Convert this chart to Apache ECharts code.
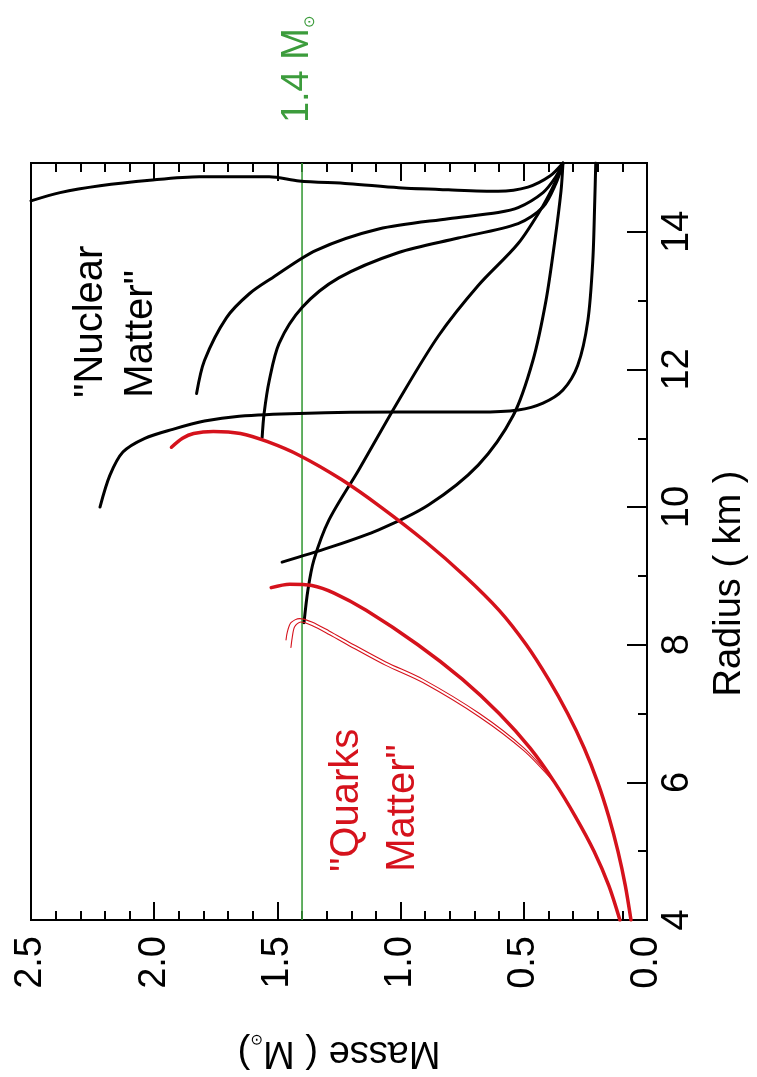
<!DOCTYPE html>
<html>
<head>
<meta charset="utf-8">
<script src="https://cdn.jsdelivr.net/npm/echarts/dist/echarts.min.js"></script>
<style>
  html, body { margin: 0; padding: 0; background: #fff; }
  #chart { width: 757px; height: 1077px; }
</style>
</head>
<body>
<div id="chart"></div>
<script>
// Neutron-star / quark-star mass–radius relations.
// The figure is laid out turned a quarter turn: mass runs right-to-left along the
// bottom, radius runs bottom-to-top along the right side.

// Axis tick labels
const radiusTickLabels = ['4', '6', '8', '10', '12', '14'];
const massTickLabels = ['0.0', '0.5', '1.0', '1.5', '2.0', '2.5'];
const referenceMass = 1.4;

// "Nuclear matter" curves (radius in km, mass in solar masses)
const nucA_R = [14.45, 14.57, 14.67, 14.75, 14.80, 14.80, 14.74, 14.70, 14.64, 14.61, 14.59, 14.65, 14.81, 15.0];
const nucA_M = [2.500, 2.382, 2.220, 2.018, 1.816, 1.533, 1.412, 1.210, 1.008, 0.806, 0.604, 0.483, 0.394, 0.341];

const nucB_R = [11.65, 12.13, 12.75, 13.10, 13.33, 13.73, 14.04, 14.19, 14.28, 14.35, 14.57, 14.80, 15.0];
const nucB_M = [1.828, 1.796, 1.707, 1.614, 1.521, 1.343, 1.089, 0.806, 0.604, 0.523, 0.422, 0.370, 0.341];

const nucC_R = [11.01, 11.36, 11.84, 12.38, 12.90, 13.33, 13.70, 13.91, 14.12, 14.36, 14.70, 15.0];
const nucC_M = [1.562, 1.554, 1.533, 1.493, 1.400, 1.251, 1.008, 0.766, 0.523, 0.422, 0.370, 0.341];

const nucD_R = [10.00, 10.46, 10.80, 11.00, 11.13, 11.25, 11.32, 11.36, 11.38, 11.38, 11.41, 11.51, 11.70, 12.06, 12.71, 13.58, 14.45, 15.0];
const nucD_M = [2.220, 2.180, 2.127, 2.038, 1.925, 1.796, 1.655, 1.412, 1.008, 0.685, 0.523, 0.422, 0.341, 0.281, 0.240, 0.220, 0.212, 0.208];

const nucE_R = [9.20, 9.41, 9.67, 10.03, 10.61, 11.33, 12.13, 13.00, 13.87, 14.59, 15.0];
const nucE_M = [1.481, 1.291, 1.089, 0.887, 0.685, 0.543, 0.463, 0.410, 0.374, 0.349, 0.341];

const nucF_R = [8.32, 8.80, 9.23, 9.81, 10.54, 11.55, 12.49, 13.22, 13.83, 14.38, 14.74, 15.0];
const nucF_M = [1.392, 1.376, 1.352, 1.291, 1.170, 1.008, 0.846, 0.685, 0.523, 0.422, 0.370, 0.341];

// "Quarks matter" curves
const qrkA_R = [4.00, 4.50, 5.00, 5.50, 6.00, 6.50, 7.00, 7.50, 8.00, 8.50, 9.00, 9.50, 10.00, 10.40, 10.75, 10.95, 11.07, 11.10, 11.07, 11.00, 10.87];
const qrkA_M = [0.065, 0.088, 0.118, 0.155, 0.200, 0.255, 0.322, 0.400, 0.490, 0.600, 0.740, 0.900, 1.080, 1.240, 1.410, 1.540, 1.650, 1.760, 1.840, 1.885, 1.930];

const qrkB_R = [4.00, 4.50, 5.00, 5.50, 6.00, 6.50, 7.00, 7.50, 8.00, 8.50, 8.75, 8.86, 8.88, 8.83];
const qrkB_M = [0.110, 0.155, 0.215, 0.290, 0.375, 0.475, 0.600, 0.750, 0.930, 1.140, 1.270, 1.360, 1.450, 1.525];

const qrkC_R = [6.04, 6.50, 7.00, 7.50, 7.75, 8.00, 8.20, 8.33, 8.38, 8.32, 8.18, 8.07];
const qrkC_M = [0.382, 0.500, 0.680, 0.910, 1.060, 1.190, 1.290, 1.360, 1.410, 1.445, 1.460, 1.465];

const qrkD_R = [6.02, 6.46, 6.95, 7.45, 7.70, 7.95, 8.15, 8.28, 8.33, 8.26, 8.10, 7.96];
const qrkD_M = [0.382, 0.500, 0.680, 0.910, 1.060, 1.190, 1.290, 1.360, 1.405, 1.430, 1.440, 1.445];

const FONT = "'Liberation Sans', Arial, Helvetica, sans-serif";
const BLACK = '#000000';
const RED = '#d5121c';
const GREEN = '#3c9c3c';
const FS = 38;
const NOTE_FS = 40;

function pairs(radius, mass) {
  return radius.map((r, i) => [mass[i], r]);
}

function curve(radius, mass, color, width, z) {
  return {
    type: 'line',
    xAxisIndex: 0,
    yAxisIndex: 0,
    data: pairs(radius, mass),
    symbol: 'none',
    smooth: 0.3,
    clip: true,
    z: z || 2,
    lineStyle: { color: color, width: width, cap: 'round', join: 'round' },
    emphasis: { disabled: true },
    silent: true
  };
}

const tickStyle = { color: BLACK, width: 2 };
// small solar symbol set slightly below the baseline
const sunSub = { fontSize: 15, fontFamily: FONT, verticalAlign: 'bottom', lineHeight: 10 };

function massAxis(position, interval, len, main) {
  const ax = {
    type: 'value',
    gridIndex: 0,
    position: position,
    inverse: true,
    min: 0,
    max: 2.5,
    interval: interval,
    axisLine: { show: false },
    splitLine: { show: false },
    axisTick: { show: true, inside: true, length: len, lineStyle: tickStyle },
    axisLabel: { show: false }
  };
  if (main) {
    ax.axisLabel = {
      show: true,
      rotate: 90,
      margin: 16,
      fontSize: FS,
      fontFamily: FONT,
      color: BLACK,
      formatter: v => massTickLabels[Math.round(v / 0.5)]
    };
    ax.name = 'Masse ( M{s|⊙})';
    ax.nameLocation = 'middle';
    ax.nameRotate = 180;
    ax.nameGap = 112;
    ax.nameTextStyle = {
      fontSize: FS, fontFamily: FONT, color: BLACK, lineHeight: 40,
      rich: { s: Object.assign({ color: BLACK }, sunSub) }
    };
  }
  return ax;
}

function radiusAxis(interval, len, main) {
  const ax = {
    type: 'value',
    gridIndex: 0,
    position: 'right',
    min: 4,
    max: 15,
    interval: interval,
    axisLine: { show: false },
    splitLine: { show: false },
    axisTick: { show: true, inside: true, length: len, lineStyle: tickStyle },
    axisLabel: { show: false }
  };
  if (main) {
    ax.axisLabel = {
      show: true,
      rotate: 90,
      margin: 12,
      fontSize: FS,
      fontFamily: FONT,
      color: BLACK,
      showMaxLabel: false,
      formatter: v => radiusTickLabels[Math.round((v - 4) / 2)] || ''
    };
    ax.name = 'Radius ( km )';
    ax.nameLocation = 'middle';
    ax.nameRotate = 90;
    ax.nameGap = 64;
    ax.nameTextStyle = { fontSize: FS, fontFamily: FONT, color: BLACK, padding: [0, 84, 0, 0] };
  }
  return ax;
}

const chart = echarts.init(document.getElementById('chart'));

chart.setOption({
  animation: false,
  backgroundColor: '#ffffff',
  grid: {
    left: 31, right: 107, top: 163, bottom: 156,
    show: true, borderColor: BLACK, borderWidth: 2, backgroundColor: 'transparent'
  },
  xAxis: [
    massAxis('bottom', 0.5, 18, true),
    massAxis('bottom', 0.1, 9, false),
    massAxis('top', 0.5, 18, false),
    massAxis('top', 0.1, 9, false)
  ],
  yAxis: [
    radiusAxis(2, 20, true),
    radiusAxis(1, 9, false)
  ],
  series: [
    {
      type: 'line',
      xAxisIndex: 0,
      yAxisIndex: 0,
      data: [[referenceMass, 4], [referenceMass, 15]],
      symbol: 'none',
      z: 1,
      silent: true,
      lineStyle: { color: GREEN, width: 1.6 }
    },
    curve(nucA_R, nucA_M, BLACK, 3),
    curve(nucB_R, nucB_M, BLACK, 3),
    curve(nucC_R, nucC_M, BLACK, 3),
    curve(nucD_R, nucD_M, BLACK, 3),
    curve(nucE_R, nucE_M, BLACK, 3),
    curve(nucF_R, nucF_M, BLACK, 3),
    curve(qrkA_R, qrkA_M, RED, 3.5, 3),
    curve(qrkB_R, qrkB_M, RED, 3.5, 3),
    curve(qrkC_R, qrkC_M, RED, 1.1, 3),
    curve(qrkD_R, qrkD_M, RED, 1.1, 3)
  ]
});

// Annotations, anchored in data units and turned with the axes
function at(mass, radius) {
  return chart.convertToPixel({ xAxisIndex: 0, yAxisIndex: 0 }, [mass, radius]);
}
const pNuc = at(2.36, 11.59);
const pQrk = at(1.33, 4.70);
const pRef = at(1.418, 15.58);

chart.setOption({
  graphic: [
    {
      type: 'text', x: pNuc[0], y: pNuc[1], rotation: Math.PI / 2, silent: true,
      style: {
        text: '"Nuclear\nMatter"', fill: BLACK, font: NOTE_FS + 'px ' + FONT,
        lineHeight: 50, align: 'left', verticalAlign: 'top'
      }
    },
    {
      type: 'text', x: pQrk[0], y: pQrk[1], rotation: Math.PI / 2, silent: true,
      style: {
        text: '"Quarks\nMatter"', fill: RED, font: NOTE_FS + 'px ' + FONT,
        lineHeight: 56, align: 'left', verticalAlign: 'top'
      }
    },
    {
      type: 'text', x: pRef[0], y: pRef[1], rotation: Math.PI / 2, silent: true,
      style: {
        text: '1.4 M{s|⊙}', fill: GREEN, font: FS + 'px ' + FONT,
        lineHeight: 40, align: 'left', verticalAlign: 'middle',
        rich: { s: Object.assign({ fill: GREEN }, sunSub) }
      }
    }
  ]
});
</script>
</body>
</html>
